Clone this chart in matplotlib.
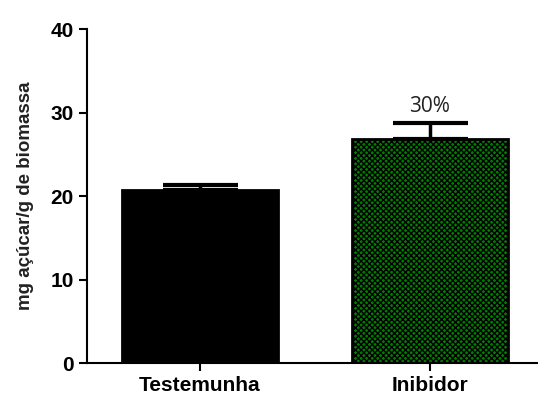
import numpy as np
import matplotlib
matplotlib.use("Agg")
import matplotlib.pyplot as plt

plt.rcParams["font.family"] = ["Liberation Sans", "DejaVu Sans"]
plt.rcParams["hatch.color"] = "black"
plt.rcParams["hatch.linewidth"] = 1.0

# Data
groups = ["Testemunha", "Inibidor"]
means = [20.7, 26.8]
errors = [0.6, 1.9]
labels_above = ["", "30%"]

fig = plt.figure(figsize=(5.38, 3.99), dpi=100)
ax = fig.add_axes([0.162, 0.09, 0.838, 0.837])

x = np.arange(len(groups))
bars = ax.bar(x, means, width=0.68, color=["black", "#008000"],
              edgecolor="black", linewidth=2, zorder=2)
bars[1].set_hatch("xxxxxx")

# Upper error bars only
ax.errorbar(x, means, yerr=[np.zeros(len(errors)), errors], fmt="none",
            ecolor="black", elinewidth=2.5, capsize=27, capthick=3, zorder=3)

for xi, m, e, lab in zip(x, means, errors, labels_above):
    if lab:
        ax.text(xi, m + e + 0.8, lab, ha="center", va="bottom",
                fontsize=15, family=["Open Sans", "DejaVu Sans"], color="#222222")

ax.set_xlim(-0.491, 1.47)
ax.set_ylim(0, 40)
ax.set_yticks([0, 10, 20, 30, 40])
ax.set_xticks(x)
ax.set_xticklabels(groups, fontsize=15, fontweight="bold")
ax.tick_params(axis="y", labelsize=15, width=1.5, length=6)
for t in ax.get_yticklabels():
    t.set_fontweight("bold")
ax.tick_params(axis="x", width=1.5, length=6)

ax.spines["top"].set_visible(False)
ax.spines["right"].set_visible(False)
ax.spines["left"].set_linewidth(1.5)
ax.spines["bottom"].set_linewidth(1.5)

ax.set_ylabel("mg açúcar/g de biomassa", fontsize=13.5, fontweight="bold",
              color="#222222", labelpad=12)

fig.savefig("out.png", dpi=100)
